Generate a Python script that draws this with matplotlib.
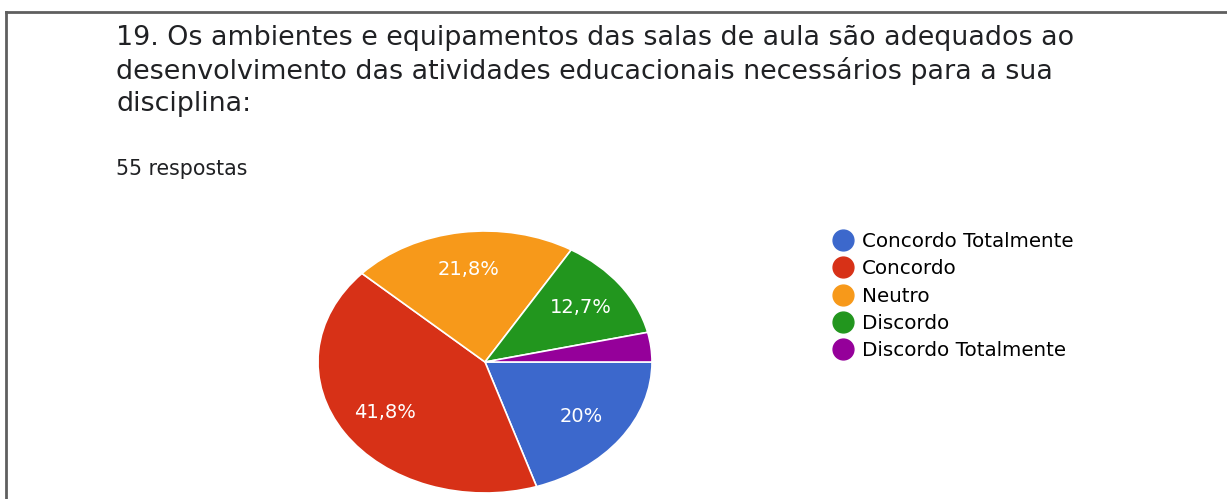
import matplotlib.pyplot as plt
from matplotlib.lines import Line2D

# survey answers (55 respostas)
categories = ["Concordo Totalmente", "Concordo", "Neutro", "Discordo", "Discordo Totalmente"]
counts = [11, 23, 12, 7, 2]
colors = ["#3c68cc", "#d73117", "#f7991a", "#22961e", "#95009a"]

title_lines = [
    "19. Os ambientes e equipamentos das salas de aula são adequados ao",
    "desenvolvimento das atividades educacionais necessários para a sua",
    "disciplina:",
]
subtitle = "55 respostas"


def pct_label(p):
    # show only percentages large enough, like Google Forms
    if p < 5:
        return ""
    s = f"{p:.1f}".replace(".", ",")
    if s.endswith(",0"):
        s = s[:-2]
    return s + "%"


fig = plt.figure(figsize=(12.27, 4.99), dpi=100)
fig.patch.set_facecolor("white")

# frame of the screenshot
fig.add_artist(Line2D([6 / 1227, 1], [1 - 12 / 499, 1 - 12 / 499], color="#5f5f5f", lw=2))
fig.add_artist(Line2D([6 / 1227, 6 / 1227], [0, 1 - 12 / 499], color="#5f5f5f", lw=2))

for i, line in enumerate(title_lines):
    fig.text(116 / 1227, 1 - (38 + 33 * i) / 499, line, fontsize=19.4, family="DejaVu Sans",
             color="#202124", va="center", ha="left")
fig.text(116 / 1227, 1 - 169 / 499, subtitle, fontsize=14.8, family="DejaVu Sans",
         color="#202124", va="center", ha="left")

ax = fig.add_axes([318 / 1227, 6 / 499, 334 / 1227, 262 / 499])
wedges, texts, autotexts = ax.pie(counts, colors=colors, startangle=0, counterclock=False,
                                  autopct=pct_label, pctdistance=0.71,
                                  wedgeprops=dict(edgecolor="white", linewidth=1.2),
                                  textprops=dict(color="white", fontsize=14, family="DejaVu Sans"))
ax.set_aspect("auto")
ax.set_xlim(-1.0, 1.0)
ax.set_ylim(-1.0, 1.0)
ax.axis("off")

handles = [Line2D([], [], marker="o", linestyle="", markersize=15, markerfacecolor=c,
                  markeredgecolor=c) for c in colors]
fig.legend(handles, categories, loc="upper left", bbox_to_anchor=(818 / 1227, 1 - 222 / 499),
           frameon=False, prop=dict(family="DejaVu Sans", size=14.3),
           handletextpad=0.2, labelspacing=0.42, handlelength=1.5, borderpad=0)

fig.savefig("out.png", dpi=100)
